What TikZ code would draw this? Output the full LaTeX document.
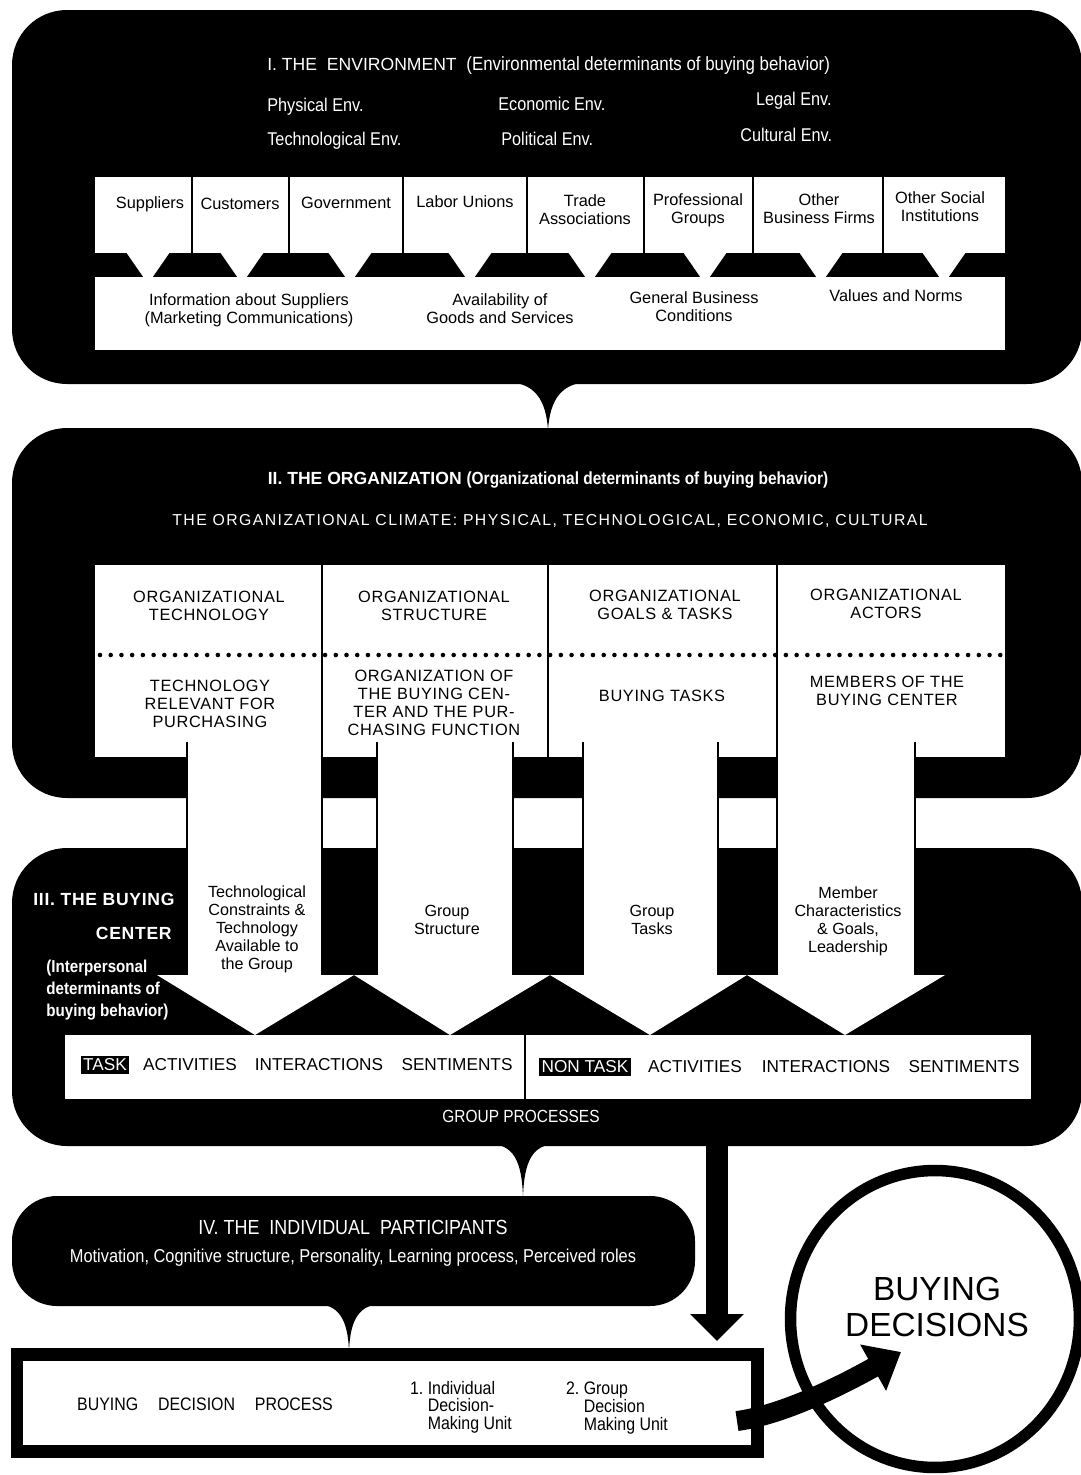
\documentclass[tikz,border=0pt]{standalone}
\usepackage{fontspec}
\setmainfont{Liberation Sans}
\newfontfamily\narrowfont[FakeStretch=0.88]{Liberation Sans}
\newfontfamily\spacedfont[LetterSpace=4]{Liberation Sans}
\newfontfamily\widefont[LetterSpace=9]{Liberation Sans}
\usetikzlibrary{positioning,fit,calc,arrows.meta,shapes.geometric}

\begin{document}
\begin{tikzpicture}[x=0.02cm, y=-0.02cm,
    every node/.style={inner sep=0pt, align=center},
    panel/.style={fill=black, rounded corners=1.1cm},
    whitebox/.style={fill=white},
    divider/.style={line width=1pt},
    shaftedge/.style={line width=1.1pt},
    dotrow/.style={line width=2.6pt, line cap=round, dash pattern=on 0pt off 6.1pt},
    bigarrow/.style={line width=0.44cm, -{Triangle[width=1.04cm, length=0.54cm]}},
    curvearrow/.style={line width=0.4cm, -{Triangle[width=1.02cm, length=0.64cm]}},
    envtitle/.style={text=white, font=\fontsize{10}{12}\selectfont},
    envitem/.style={text=white, font=\narrowfont\fontsize{10.5}{12}\selectfont},
    envlabel/.style={font=\fontsize{9.3}{10.2}\selectfont},
    orgtitle/.style={text=white, font=\bfseries\fontsize{10}{12}\selectfont},
    climate/.style={text=white, font=\widefont\fontsize{9}{11}\selectfont},
    orglabel/.style={font=\spacedfont\fontsize{9.3}{10.2}\selectfont},
    buytitle/.style={text=white, font=\spacedfont\bfseries\fontsize{10}{12}\selectfont},
    buynote/.style={text=white, font=\narrowfont\bfseries\fontsize{9.8}{12.7}\selectfont},
    arrowlabel/.style={font=\fontsize{9.2}{10.2}\selectfont},
    rowlabel/.style={font=\fontsize{9.8}{12}\selectfont},
    invlabel/.style={rowlabel, fill=black, text=white, inner sep=1.5pt},
    grouptext/.style={text=white, font=\narrowfont\fontsize{10}{12}\selectfont},
    indtitle/.style={text=white, font=\narrowfont\fontsize{11.6}{13}\selectfont},
    indtext/.style={text=white, font=\narrowfont\fontsize{10.6}{12}\selectfont},
    proclabel/.style={font=\narrowfont\fontsize{10.3}{10}\selectfont},
    declabel/.style={font=\fontsize{19}{21}\selectfont}]

    \useasboundingbox (0,0) rectangle (1080,1475);

    % the four black panels
    \node[panel, fit={(12,10) (1082,384)}] (env) {};
    \node[panel, fit={(12,428) (1082,798)}] (org) {};
    \node[panel, fit={(12,848) (1082,1146)}] (buy) {};
    \node[panel, rounded corners=0.9cm, fit={(12,1196) (695,1306)}] (indiv) {};

    % pointers between panels
    \fill (505,382) .. controls (535,382) and (546,400) .. (548,430) .. controls (550,400) and (561,382) .. (591,382) -- cycle;
    \fill (489,1144) .. controls (513,1144) and (522,1160) .. (523,1198) .. controls (524,1160) and (533,1144) .. (557,1144) -- cycle;
    \fill (315,1304) .. controls (338,1304) and (348,1318) .. (349,1352) .. controls (350,1318) and (360,1304) .. (383,1304) -- cycle;

    % I. environment
    \node[envtitle, anchor=west] (envhead) at (267,66) {I.~THE~~ENVIRONMENT~~{\narrowfont\fontsize{10.9}{12}\selectfont(Environmental determinants of buying behavior)}};
    \node[envitem, anchor=west] (phys) at (267,107) {Physical Env.};
    \node[envitem, anchor=west] (tech) at (267,141) {Technological Env.};
    \node[envitem, anchor=west] (econ) at (498,104) {Economic Env.};
    \node[envitem, anchor=west] (poli) at (501,139) {Political Env.};
    \node[envitem, anchor=east] (legal) at (832,101) {Legal Env.};
    \node[envitem, anchor=west] (cult) at (740,135) {Cultural Env.};

    \node[whitebox, fit={(95,177) (1005,350)}] (envbox) {};
    \fill (95,253) rectangle (1005,277);
    \foreach \c in {148,242,350,470,590,705,821,944}
        \fill[white] ({\c-22},252) -- ({\c+22},252) -- ({\c+4},278) -- ({\c-4},278) -- cycle;
    \foreach \x in {192,289,403,527,644,753,883}
        \draw[divider] (\x,177) -- (\x,253);

    \node[envlabel] (suppl) at (150,204) {Suppliers};
    \node[envlabel] (custom) at (240,204) {Customers};
    \node[envlabel] (govt) at (346,203) {Government};
    \node[envlabel] (labor) at (465,202) {Labor Unions};
    \node[envlabel] (trade) at (585,210) {Trade\\Associations};
    \node[envlabel] (prof) at (698,210) {Professional\\Groups};
    \node[envlabel] (firms) at (819,209) {Other\\Business Firms};
    \node[envlabel] (instit) at (940,207) {Other Social\\Institutions};

    \node[envlabel] (info) at (249,310) {Information about Suppliers\\(Marketing Communications)};
    \node[envlabel] (avail) at (500,309) {Availability of\\Goods and Services};
    \node[envlabel] (cond) at (694,307) {General Business\\Conditions};
    \node[envlabel] (norms) at (896,296) {Values and Norms};

    % II. organization
    \node[orgtitle] (orghead) at (548,480) {II.~THE ORGANIZATION {\narrowfont(Organizational determinants of buying behavior)}};
    \node[climate] (clim) at (550,521) {THE ORGANIZATIONAL CLIMATE: PHYSICAL, TECHNOLOGICAL, ECONOMIC, CULTURAL};

    \node[whitebox, fit={(95,565) (1005,757)}] (orgbox) {};
    \foreach \x in {322,548,777}
        \draw[divider] (\x,565) -- (\x,757);
    \draw[dotrow] (100,655) -- (1003,655);

    \node[orglabel] (otech) at (209,606) {ORGANIZATIONAL\\TECHNOLOGY};
    \node[orglabel] (ostruct) at (434,606) {ORGANIZATIONAL\\STRUCTURE};
    \node[orglabel] (ogoals) at (665,605) {ORGANIZATIONAL\\GOALS \& TASKS};
    \node[orglabel] (oactors) at (886,604) {ORGANIZATIONAL\\ACTORS};
    \node[orglabel] (techrel) at (210,704) {TECHNOLOGY\\RELEVANT FOR\\PURCHASING};
    \node[orglabel] (orgbc) at (434,703) {ORGANIZATION OF\\THE BUYING CEN-\\TER AND THE PUR-\\CHASING FUNCTION};
    \node[orglabel] (btasks) at (662,696) {BUYING TASKS};
    \node[orglabel] (members) at (887,691) {MEMBERS OF THE\\BUYING CENTER};

    % white arrows into the buying center
    \foreach \l/\r in {187/322,377/513,583/718,777/915} {
        \fill[white] (\l,756) rectangle (\r,976);
        \draw[shaftedge] (\l,742) -- (\l,975) (\r,742) -- (\r,975);
    }
    \fill[white] (157,975) -- (255,1035) -- (354,975) -- (450,1035) -- (550,975)
        -- (650,1035) -- (747,975) -- (845,1035) -- (945,975) -- cycle;

    % III. buying center
    \node[buytitle, anchor=west] (buyhead) at (33,899) {III.~THE BUYING};
    \node[buytitle, anchor=east] (center) at (172,933) {CENTER};
    \node[buynote, anchor=west, align=left] (interp) at (46,990) {(Interpersonal\\determinants of\\buying behavior)};

    \node[arrowlabel] (constr) at (257,929) {Technological\\Constraints \&\\Technology\\Available to\\the Group};
    \node[arrowlabel] (gstruct) at (447,920) {Group\\Structure};
    \node[arrowlabel] (gtasks) at (652,920) {Group\\Tasks};
    \node[arrowlabel] (mchar) at (848,921) {Member\\Characteristics\\\& Goals,\\Leadership};

    \node[whitebox, fit={(65,1035) (1031,1099)}] (grpbox) {};
    \draw[divider] (525,1035) -- (525,1099);

    \node[invlabel] (task) at (105,1065) {TASK};
    \node[rowlabel] (act1) at (190,1065) {ACTIVITIES};
    \node[rowlabel] (inter1) at (319,1065) {INTERACTIONS};
    \node[rowlabel] (sent1) at (457,1065) {SENTIMENTS};
    \node[invlabel] (nontask) at (585,1067) {NON TASK};
    \node[rowlabel] (act2) at (695,1067) {ACTIVITIES};
    \node[rowlabel] (inter2) at (826,1067) {INTERACTIONS};
    \node[rowlabel] (sent2) at (964,1067) {SENTIMENTS};

    \node[grouptext] (gproc) at (521,1116) {GROUP PROCESSES};

    % IV. individual participants
    \node[indtitle] (indhead) at (353,1227) {IV.~THE~~INDIVIDUAL~~PARTICIPANTS};
    \node[indtext] (motiv) at (353,1258) {Motivation, Cognitive structure, Personality, Learning process, Perceived roles};

    % decision process and decisions
    \node[draw, line width=0.26cm, fill=white, fit={(17,1354) (757,1451)}] (dproc) {};
    \node[proclabel] (bdp) at (205,1404) {BUYING\hspace{1.1em}DECISION\hspace{1.1em}PROCESS};
    \node[proclabel, align=left] (unit1) at (461,1407) {1.~Individual\\\phantom{1.~}Decision-\\\phantom{1.~}Making Unit};
    \node[proclabel, align=left] (unit2) at (617,1408) {2.~Group\\\phantom{2.~}Decision\\\phantom{2.~}Making Unit};

    \node[draw, ellipse, line width=0.23cm, minimum width=5.78cm, minimum height=5.94cm] (decisions) at (935,1319) {};
    \node[declabel] (dectext) at (937,1307) {BUYING\\DECISIONS};

    \coordinate (dropx) at (717,0);
    \draw[bigarrow, shorten >=0.13cm] (buy.south -| dropx) -- (dproc.north -| dropx);
    \coordinate (arrstart) at (737,1421);
    \draw[curvearrow] (arrstart) .. controls (790,1414) and (860,1375) .. ($(decisions.center)+(-34,33)$);
\end{tikzpicture}
\end{document}
